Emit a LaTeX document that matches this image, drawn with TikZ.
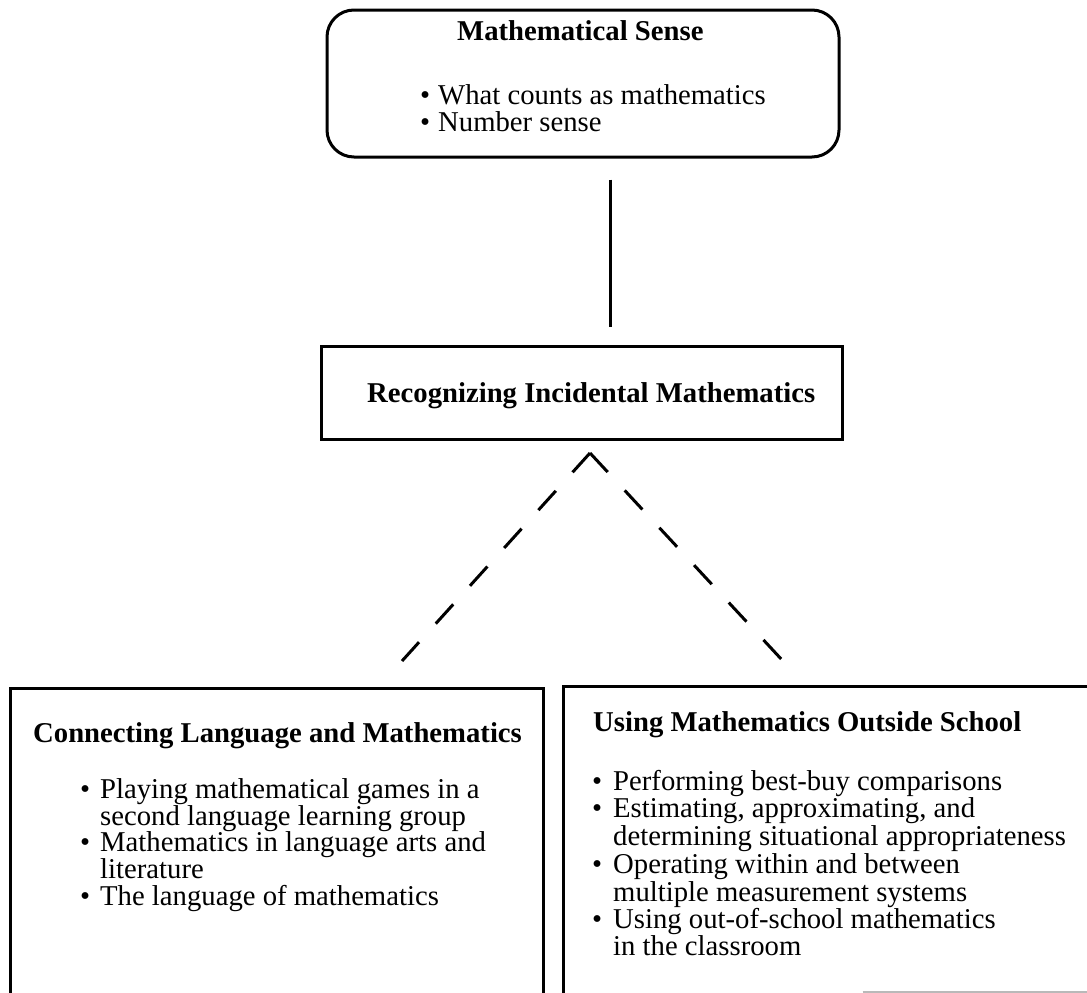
\documentclass[tikz,border=0pt]{standalone}
\usepackage{fontspec}
\setmainfont{Liberation Serif}
\usetikzlibrary{calc}
\newcommand\mybul[1]{\llap{•\hspace{#1pt}}}
\begin{document}
\begin{tikzpicture}[x=1pt,y=-1pt,
  frame/.style={draw=black, line width=3pt, inner sep=0pt},
  txt/.style={anchor=base west, inner sep=0pt, font=\fontsize{28.7}{27}\selectfont},
  hd/.style={anchor=base west, inner sep=0pt, font=\fontsize{28.7}{27}\selectfont\bfseries},
  link/.style={line width=3pt},
  dashlink/.style={line width=3pt, dash pattern=on 26pt off 25pt}]
\useasboundingbox (0,0) rectangle (1087,993);
\clip (0,0) rectangle (1087,993);
\fill[white] (0,0) rectangle (1087,993);

% boxes
\node[frame, rounded corners=27pt, minimum width=512pt, minimum height=147pt] (sense) at (583,83.5) {};
\node[frame, minimum width=521pt, minimum height=93pt] (recog) at (581.5,392.5) {};
\node[frame, minimum width=533pt, minimum height=340pt] (lang) at (276.5,858) {};
\node[frame, minimum width=560pt, minimum height=344pt] (outside) at (843,858) {};
\draw[gray!55, line width=2pt] (outside.west |- 0,992) ++(301,0) -- (1087,992);

% top box text
\node[hd] (senseh) at (457,40) {Mathematical Sense};
\node[txt] (s1) at (438,104) {\mybul{8}What counts as mathematics};
\node[txt] (s2) at (438,131) {\mybul{8}Number sense};

% middle box text
\node[hd] (recogh) at (367,402) {Recognizing Incidental Mathematics};

% left box text
\node[hd] (langh) at (33,742) {Connecting Language and Mathematics};
\node[txt] (l1) at (100,798) {\mybul{10}Playing mathematical games in a};
\node[txt] (l2) at (100,825) {second language learning group};
\node[txt] (l3) at (100,851) {\mybul{10}Mathematics in language arts and};
\node[txt] (l4) at (100,878) {literature};
\node[txt] (l5) at (100,905) {\mybul{10}The language of mathematics};

% right box text
\node[hd] (outh) at (593,731) {Using Mathematics Outside School};
\node[txt] (o1) at (613,790) {\mybul{11}Performing best-buy comparisons};
\node[txt] (o2) at (613,817) {\mybul{11}Estimating, approximating, and};
\node[txt] (o3) at (613,845) {determining situational appropriateness};
\node[txt] (o4) at (613,873) {\mybul{11}Operating within and between};
\node[txt] (o5) at (613,901) {multiple measurement systems};
\node[txt] (o6) at (613,928) {\mybul{11}Using out-of-school mathematics};
\node[txt] (o7) at (613,955) {in the classroom};

% connectors
\coordinate (vx) at (610,0);
\draw[link, shorten <=21pt, shorten >=18pt] (sense.south -| vx) -- (recog.north -| vx);
\coordinate (apex) at (590,453);
\coordinate (lend) at (402,661);
\coordinate (rend) at (783,661);
\draw[dashlink] (apex) -- (lend);
\draw[dashlink] (apex) -- (rend);
\end{tikzpicture}
\end{document}
